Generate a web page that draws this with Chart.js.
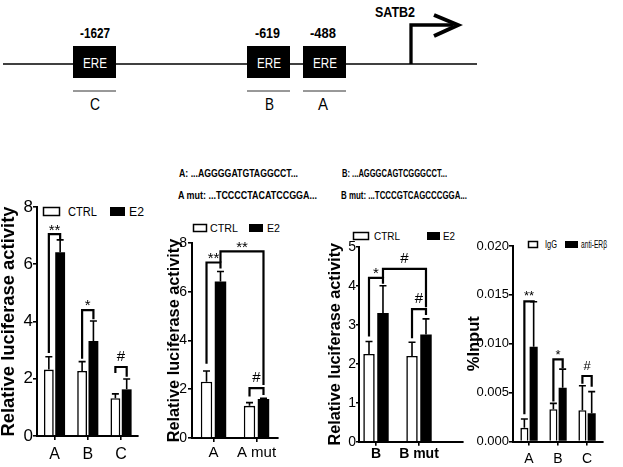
<!DOCTYPE html>
<html>
<head>
<meta charset="utf-8">
<script src="https://cdn.jsdelivr.net/npm/chart.js@4.4.1/dist/chart.umd.min.js"></script>
<style>
    body { margin: 0; background: #fff; width: 623px; height: 467px; overflow: hidden; position: relative; }
    svg, canvas { position: absolute; }
    svg text { font-family: 'Liberation Sans Narrow', 'Liberation Sans', Arial, sans-serif; fill: #000; }
</style>
</head>
<body>
<svg width="623" height="467" style="left:0;top:0">
    <!-- promoter diagram -->
    <line x1="3" y1="64" x2="477" y2="64" stroke="#000" stroke-width="1.3"/>
    <rect x="73" y="46" width="43" height="32" fill="#000"/>
    <rect x="247" y="46" width="43" height="32" fill="#000"/>
    <rect x="303" y="46" width="43" height="32" fill="#000"/>
    <text x="83" y="68" font-size="15" textLength="24" lengthAdjust="spacingAndGlyphs" style="fill:#fff">ERE</text>
    <text x="257" y="68" font-size="15" textLength="24" lengthAdjust="spacingAndGlyphs" style="fill:#fff">ERE</text>
    <text x="313" y="68" font-size="15" textLength="24" lengthAdjust="spacingAndGlyphs" style="fill:#fff">ERE</text>
    <text x="80" y="38" font-size="14" font-weight="bold" textLength="30" lengthAdjust="spacingAndGlyphs">-1627</text>
    <text x="255" y="38" font-size="14" font-weight="bold" textLength="25" lengthAdjust="spacingAndGlyphs">-619</text>
    <text x="310" y="38" font-size="14" font-weight="bold" textLength="26" lengthAdjust="spacingAndGlyphs">-488</text>
    <line x1="73" y1="91" x2="116" y2="91" stroke="#333" stroke-width="1"/>
    <line x1="247" y1="91" x2="290" y2="91" stroke="#333" stroke-width="1"/>
    <line x1="303" y1="91" x2="346" y2="91" stroke="#333" stroke-width="1"/>
    <text x="90" y="110" font-size="16" textLength="10" lengthAdjust="spacingAndGlyphs">C</text>
    <text x="265" y="110" font-size="16" textLength="9" lengthAdjust="spacingAndGlyphs">B</text>
    <text x="318" y="110" font-size="16" textLength="10" lengthAdjust="spacingAndGlyphs">A</text>
    <polyline points="411,64 411,25 453,25" fill="none" stroke="#000" stroke-width="3.3"/>
    <polyline points="434,15 458,25 434,36" fill="none" stroke="#000" stroke-width="4"/>
    <text x="375" y="17" font-size="15" font-weight="bold" textLength="40" lengthAdjust="spacingAndGlyphs">SATB2</text>

    <!-- mutation sequences -->
    <text x="179" y="177" font-size="10.5" font-weight="bold" textLength="119" lengthAdjust="spacingAndGlyphs">A: ...AGGGGATGTAGGCCT...</text>
    <text x="178" y="199" font-size="10.5" font-weight="bold" textLength="139" lengthAdjust="spacingAndGlyphs">A mut: ...TCCCCTACATCCGGA...</text>
    <text x="342" y="177" font-size="10.5" font-weight="bold" textLength="105" lengthAdjust="spacingAndGlyphs">B: ...AGGGCAGTCGGGCCT...</text>
    <text x="341" y="199" font-size="10.5" font-weight="bold" textLength="126" lengthAdjust="spacingAndGlyphs">B mut: ...TCCCGTCAGCCCGGA...</text>

    <!-- legends -->
    <rect x="43.5" y="207.5" width="16" height="8" fill="#fff" stroke="#000" stroke-width="1.5"/>
    <text x="68" y="216" font-size="12" textLength="29" lengthAdjust="spacingAndGlyphs">CTRL</text>
    <rect x="110" y="207" width="15" height="9" fill="#000"/>
    <text x="129" y="216" font-size="12" textLength="15" lengthAdjust="spacingAndGlyphs">E2</text>

    <rect x="193.5" y="224.5" width="13" height="7" fill="#fff" stroke="#000" stroke-width="1.5"/>
    <text x="210" y="232" font-size="11" textLength="28" lengthAdjust="spacingAndGlyphs">CTRL</text>
    <rect x="249" y="224" width="14" height="8" fill="#000"/>
    <text x="267" y="232" font-size="11" textLength="13" lengthAdjust="spacingAndGlyphs">E2</text>

    <rect x="353.5" y="232.5" width="15" height="7" fill="#fff" stroke="#000" stroke-width="1.5"/>
    <text x="374" y="240" font-size="11" textLength="26" lengthAdjust="spacingAndGlyphs">CTRL</text>
    <rect x="427" y="232" width="13" height="8" fill="#000"/>
    <text x="443" y="240" font-size="11" textLength="12" lengthAdjust="spacingAndGlyphs">E2</text>

    <rect x="528.5" y="241.5" width="9" height="6" fill="#fff" stroke="#000" stroke-width="1.5"/>
    <text x="545" y="248" font-size="11" textLength="12" lengthAdjust="spacingAndGlyphs">IgG</text>
    <rect x="565" y="241" width="13" height="7" fill="#000"/>
    <text x="581" y="248" font-size="11" textLength="26" lengthAdjust="spacingAndGlyphs">anti-ERβ</text>
</svg>

<canvas id="c1" width="145" height="277" style="left:0;top:190px"></canvas>
<canvas id="c2" width="119" height="242" style="left:166px;top:225px"></canvas>
<canvas id="c3" width="143" height="237" style="left:327px;top:230px"></canvas>
<canvas id="c4" width="157" height="237" style="left:466px;top:230px"></canvas>

<script>
// luciferase, promoter fragments
const p1Cats = ['A', 'B', 'C'];
const p1Ctrl = [2.32, 2.27, 1.32];
const p1CtrlErr = [0.45, 0.33, 0.15];
const p1E2 = [6.42, 3.32, 1.63];
const p1E2Err = [0.43, 0.70, 0.36];

// luciferase, site A mutant
const p2Cats = ['A', 'A mut'];
const p2Ctrl = [2.31, 1.32];
const p2CtrlErr = [0.44, 0.13];
const p2E2 = [6.42, 1.60];
const p2E2Err = [0.41, 0.03];

// luciferase, site B mutant
const p3Cats = ['B', 'B mut'];
const p3Ctrl = [2.25, 2.20];
const p3CtrlErr = [0.32, 0.35];
const p3E2 = [3.30, 2.75];
const p3E2Err = [0.70, 0.40];

// ChIP
const p4Cats = ['A', 'B', 'C'];
const p4IgG = [0.0014, 0.0033, 0.0032];
const p4IgGErr = [0.0009, 0.0006, 0.0025];
const p4Anti = [0.0097, 0.0055, 0.0029];
const p4AntiErr = [0.0046, 0.0019, 0.0022];

const FONT = "'Liberation Sans Narrow', 'Liberation Sans', Arial, sans-serif";
Chart.defaults.font.family = FONT;
Chart.defaults.color = '#000';

// error bars, upper only
const errorBars = {
    id: 'errorBars',
    afterDatasetsDraw(chart) {
        const ctx = chart.ctx;
        const yScale = chart.scales.y;
        chart.data.datasets.forEach(function(ds, di) {
            chart.getDatasetMeta(di).data.forEach(function(bar, i) {
                const top = yScale.getPixelForValue(ds.data[i].y + ds.errors[i]);
                ctx.save();
                ctx.strokeStyle = '#000';
                ctx.lineWidth = 1.6;
                ctx.beginPath();
                ctx.moveTo(bar.x, bar.y);
                ctx.lineTo(bar.x, top);
                ctx.moveTo(bar.x - 3.5, top);
                ctx.lineTo(bar.x + 3.5, top);
                ctx.stroke();
                ctx.restore();
            });
        });
    }
};

// significance brackets: legs sit on bars [dataset, category]
function bracketPlugin(items, markSize) {
    return {
        id: 'brackets',
        afterDatasetsDraw(chart) {
            const ctx = chart.ctx;
            const y = chart.scales.y;
            items.forEach(function(b) {
                const xa = chart.getDatasetMeta(b.a[0]).data[b.a[1]].x;
                const xb = chart.getDatasetMeta(b.b[0]).data[b.b[1]].x;
                const yt = y.getPixelForValue(b.top);
                ctx.save();
                ctx.strokeStyle = '#000';
                ctx.lineWidth = 2.2;
                ctx.lineJoin = 'miter';
                ctx.beginPath();
                ctx.moveTo(xa, y.getPixelForValue(b.aEnd));
                ctx.lineTo(xa, yt);
                ctx.lineTo(xb, yt);
                ctx.lineTo(xb, y.getPixelForValue(b.bEnd));
                ctx.stroke();
                const star = b.text.indexOf('*') >= 0;
                const centre = yt - (star ? 8.5 : 11);
                ctx.font = markSize + 'px ' + FONT;
                ctx.fillStyle = '#000';
                ctx.textAlign = 'center';
                ctx.textBaseline = 'alphabetic';
                ctx.fillText(b.text, (xa + xb) / 2, centre + (star ? 0.59 : 0.35) * markSize);
                ctx.restore();
            });
        }
    };
}

function makePanel(id, cfg) {
    const ds = function(vals, errs, fill) {
        return {
            data: vals.map(function(v, i) { return { x: i, y: v }; }),
            errors: errs,
            backgroundColor: fill,
            borderColor: '#000',
            borderWidth: fill === '#fff' ? 1.6 : 0,
            categoryPercentage: cfg.catPct,
            barPercentage: cfg.barPct
        };
    };
    return new Chart(document.getElementById(id), {
        type: 'bar',
        data: {
            datasets: [ds(cfg.ctrl, cfg.ctrlErr, '#fff'), ds(cfg.treat, cfg.treatErr, '#000')]
        },
        options: {
            responsive: false,
            animation: false,
            events: [],
            layout: { padding: { top: cfg.padTop, right: cfg.padRight, left: 0, bottom: 0 } },
            plugins: { legend: { display: false }, tooltip: { enabled: false } },
            scales: {
                x: {
                    type: 'linear',
                    offset: false,
                    min: cfg.xMin,
                    max: cfg.xMax,
                    afterBuildTicks: function(s) { s.ticks = cfg.cats.map(function(c, i) { return { value: i }; }); },
                    afterFit: function(s) { s.height = cfg.xH; },
                    border: { display: true, color: '#000', width: 2 },
                    grid: { display: true, offset: false, drawOnChartArea: false, drawTicks: true, tickLength: 4, color: '#000', lineWidth: 1.6 },
                    ticks: {
                        autoSkip: false,
                        maxRotation: 0,
                        padding: cfg.xPad,
                        font: { size: cfg.xFont, weight: cfg.xWeight },
                        callback: function(v) { return cfg.cats[v]; }
                    }
                },
                y: {
                    min: 0,
                    max: cfg.yMax,
                    afterFit: function(s) { s.width = cfg.yW; },
                    border: { display: true, color: '#000', width: 2 },
                    grid: { display: true, drawOnChartArea: false, drawTicks: true, tickLength: cfg.yTick, color: '#000', lineWidth: 1.6 },
                    ticks: {
                        stepSize: cfg.yStep,
                        padding: cfg.yPad,
                        font: { size: cfg.yFont },
                        callback: cfg.yFmt
                    },
                    title: {
                        display: true,
                        text: cfg.title,
                        padding: 0,
                        font: { family: "'Liberation Sans', Arial, sans-serif", size: cfg.titleSize, weight: 'bold', lineHeight: 1 }
                    }
                }
            }
        },
        plugins: [errorBars, bracketPlugin(cfg.brackets, cfg.markSize)]
    });
}

const plain = function(v) { return v; };

makePanel('c1', {
    cats: p1Cats, ctrl: p1Ctrl, ctrlErr: p1CtrlErr, treat: p1E2, treatErr: p1E2Err,
    yMax: 8, yStep: 2, yFmt: plain, title: 'Relative luciferase activity', titleSize: 18.4,
    xMin: -0.526, xMax: 2.51, catPct: 0.68, barPct: 0.87,
    padTop: 17, padRight: 7, yW: 37, xH: 31, xPad: 5, xFont: 16, xWeight: 'normal',
    yFont: 17, yTick: 4, yPad: 0, markSize: 15,
    brackets: [
        { a: [0, 0], b: [1, 0], top: 7.05, aEnd: 2.9, bEnd: 6.88, text: '**' },
        { a: [0, 1], b: [1, 1], top: 4.4, aEnd: 2.7, bEnd: 4.08, text: '*' },
        { a: [0, 2], b: [1, 2], top: 2.41, aEnd: 2.2, bEnd: 2.07, text: '#' }
    ]
});

makePanel('c2', {
    cats: p2Cats, ctrl: p2Ctrl, ctrlErr: p2CtrlErr, treat: p2E2, treatErr: p2E2Err,
    yMax: 8, yStep: 2, yFmt: plain, title: 'Relative luciferase activity', titleSize: 16.3,
    xMin: -0.5, xMax: 1.5, catPct: 0.65, barPct: 0.82,
    padTop: 18, padRight: 7, yW: 26, xH: 29, xPad: 2, xFont: 15, xWeight: 'normal',
    yFont: 14, yTick: 4, yPad: 1, markSize: 15,
    brackets: [
        { a: [0, 0], b: [1, 0], top: 7.2, aEnd: 3.05, bEnd: 6.95, text: '**' },
        { a: [1, 0], b: [1, 1], top: 7.66, aEnd: 7.2, bEnd: 2.17, text: '**' },
        { a: [0, 1], b: [1, 1], top: 2.05, aEnd: 1.7, bEnd: 1.76, text: '#' }
    ]
});

makePanel('c3', {
    cats: p3Cats, ctrl: p3Ctrl, ctrlErr: p3CtrlErr, treat: p3E2, treatErr: p3E2Err,
    yMax: 5, yStep: 1, yFmt: plain, title: 'Relative luciferase activity', titleSize: 16.2,
    xMin: -0.395, xMax: 2.023, catPct: 0.65, barPct: 0.82,
    padTop: 16.7, padRight: 7, yW: 32, xH: 25.3, xPad: 0, xFont: 14, xWeight: 'bold',
    yFont: 14, yTick: 3, yPad: 0, markSize: 15,
    brackets: [
        { a: [0, 0], b: [1, 0], top: 4.2, aEnd: 2.7, bEnd: 4.05, text: '*' },
        { a: [1, 0], b: [1, 1], top: 4.43, aEnd: 4.2, bEnd: 3.45, text: '#' },
        { a: [0, 1], b: [1, 1], top: 3.4, aEnd: 2.65, bEnd: 3.25, text: '#' }
    ]
});

makePanel('c4', {
    cats: p4Cats, ctrl: p4IgG, ctrlErr: p4IgGErr, treat: p4Anti, treatErr: p4AntiErr,
    yMax: 0.02, yStep: 0.005, yFmt: function(v) { return v.toFixed(3); }, title: '%Input', titleSize: 16.5,
    xMin: -0.552, xMax: 2.55, catPct: 0.64, barPct: 0.87,
    padTop: 16, padRight: 20, yW: 47, xH: 25.5, xPad: 5, xFont: 14, xWeight: 'normal',
    yFont: 13, yTick: 4, yPad: 0, markSize: 13,
    brackets: [
        { a: [0, 0], b: [1, 0], top: 0.01434, aEnd: 0.0028, bEnd: 0.0143, text: '**' },
        { a: [0, 1], b: [1, 1], top: 0.0084, aEnd: 0.0041, bEnd: 0.0075, text: '*' },
        { a: [0, 2], b: [1, 2], top: 0.0067, aEnd: 0.0059, bEnd: 0.0056, text: '#' }
    ]
});
</script>
</body>
</html>
